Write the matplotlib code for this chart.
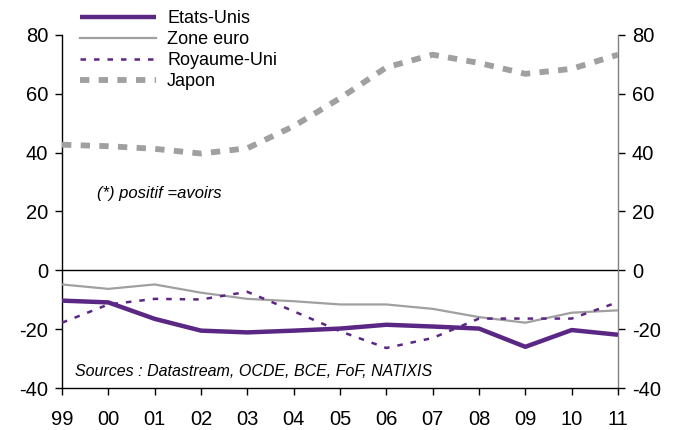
import matplotlib
matplotlib.use("Agg")
import matplotlib.pyplot as plt

years = ["99", "00", "01", "02", "03", "04", "05", "06", "07", "08", "09", "10", "11"]
etats_unis = [-10.3, -10.9, -16.5, -20.5, -21.1, -20.5, -19.8, -18.5, -19.1, -19.8, -26.0, -20.3, -21.9]
zone_euro = [-4.8, -6.3, -4.8, -7.6, -9.7, -10.5, -11.6, -11.6, -13.1, -15.9, -17.8, -14.4, -13.6]
royaume_uni = [-17.8, -11.6, -9.7, -9.9, -7.3, -13.9, -20.7, -26.4, -23.0, -16.4, -16.4, -16.4, -10.8]
japon = [42.7, 42.2, 41.3, 39.7, 41.5, 49.0, 58.5, 69.0, 73.3, 70.5, 66.8, 68.5, 73.3]
yticks = [-40, -20, 0, 20, 40, 60, 80]

plt.rcParams['font.family'] = ['Liberation Sans', 'DejaVu Sans']

fig = plt.figure(figsize=(6.87, 4.30), dpi=100)
ax = fig.add_axes([62/687, 1-388/430, 556/687, 353/430])
x = list(range(len(years)))

ax.plot(x, etats_unis, color='#5b2785', lw=3.2, solid_capstyle='butt', label='Etats-Unis', zorder=4)
ax.plot(x, zone_euro, color='#a0a0a0', lw=1.6, label='Zone euro', zorder=3)
ax.plot(x, royaume_uni, color='#5b2785', lw=1.8, linestyle=(0, (2.2, 3.2)), label='Royaume-Uni', zorder=3)
ax.plot(x, japon, color='#a0a0a0', lw=4.2, linestyle=(0, (1.6, 1.6)), label='Japon', zorder=3)

ax.axhline(0, color='black', lw=1.0, zorder=2)

ax.set_xlim(0, len(years) - 1)
ax.set_ylim(-40, 80)
ax.set_yticks(yticks)
ax.set_yticklabels([str(v) for v in yticks])
ax.set_xticks(x)
ax.set_xticklabels(years)

ax.spines['top'].set_visible(False)
for s in ['left', 'bottom']:
    ax.spines[s].set_linewidth(1.0)
    ax.spines[s].set_color('black')
ax.spines['right'].set_linewidth(1.0)
ax.spines['right'].set_color('#808080')

ax.tick_params(axis='y', which='both', direction='out', length=5, width=1,
               labelsize=14.5, left=True, right=True, labelleft=True, labelright=True, pad=5)
ax.tick_params(axis='x', direction='out', length=5, width=1, labelsize=14.5, pad=11)

ax.text(0.75, 26, "(*) positif =avoirs", style='italic', fontsize=12, va='center', ha='left')
ax.text(0.28, -34.5, "Sources : Datastream, OCDE, BCE, FoF, NATIXIS", style='italic',
        fontsize=11.5, va='center', ha='left')

leg = ax.legend(loc='upper left', bbox_to_anchor=(0.02, 1.09), frameon=False, fontsize=13,
                handlelength=4.2, handletextpad=0.6, labelspacing=0.22, borderaxespad=0)

fig.savefig("out.png", dpi=100)
